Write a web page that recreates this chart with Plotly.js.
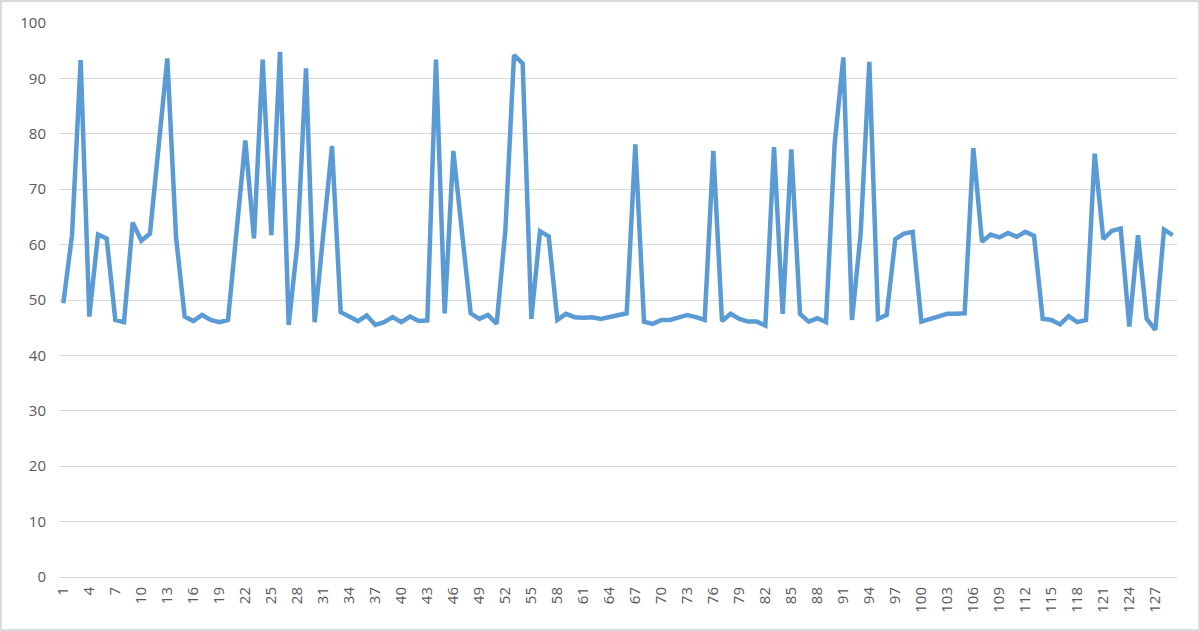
<!DOCTYPE html>
<html>
<head>
<meta charset="utf-8">
<script src="https://cdn.plot.ly/plotly-3.0.1.min.js"></script>
<style>
    html, body { margin: 0; padding: 0; background: #fff; }
    #wrap { width: 1200px; height: 631px; box-sizing: border-box; border: 2px solid #d9d9d9; }
    #grafico { width: 1196px; height: 627px; }
</style>
</head>
<body>
<div id="wrap"><div id="grafico"></div></div>
<script>
// Valores (129 pontos)
const valores = [
    49.4, 61.7, 93.3, 47.0, 61.8, 61.1, 46.4, 46.0, 64.0, 60.7,
    62.0, 77.0, 93.6, 61.4, 47.0, 46.2, 47.3, 46.4, 46.0, 46.4,
    62.5, 78.8, 61.1, 93.4, 61.7, 94.8, 45.5, 60.0, 91.8, 46.0,
    62.0, 77.8, 47.8, 47.0, 46.2, 47.2, 45.5, 46.0, 46.9, 46.0,
    47.0, 46.2, 46.3, 93.4, 47.6, 76.9, 62.0, 47.6, 46.6, 47.3,
    45.7, 62.5, 94.2, 92.7, 46.6, 62.4, 61.5, 46.4, 47.5, 46.9,
    46.8, 46.9, 46.6, 46.9, 47.1, 47.6, 78.1, 46.1, 45.7, 46.4,
    46.4, 46.8, 47.3, 46.9, 46.4, 76.9, 46.2, 47.5, 46.6, 46.1,
    46.1, 45.4, 77.6, 47.5, 77.2, 47.5, 46.1, 46.7, 46.0, 78.2,
    93.8, 46.4, 62.0, 93.0, 46.6, 47.3, 61.0, 62.0, 62.3, 46.1,
    46.6, 47.1, 47.5, 47.5, 47.6, 77.4, 60.5, 61.8, 61.3, 62.1,
    61.4, 62.3, 61.6, 46.6, 46.4, 45.6, 47.1, 46.0, 46.4, 76.4,
    61.0, 62.5, 62.9, 45.2, 61.7, 46.6, 44.6, 62.7, 61.7
];

// Categorias 1..N
const categorias = valores.map((v, i) => i + 1);

const corLinha = '#5b9bd5';
const corTexto = '#595959';
const corGrade = '#d9d9d9';

var serie = {
    x: categorias,
    y: valores,
    mode: 'lines',
    type: 'scatter',
    line: {color: corLinha, width: 4.5},
    hoverinfo: 'x+y'
};

var layout = {
    width: 1196,
    height: 627,
    margin: { l: 57, r: 21, t: 21, b: 52 },
    paper_bgcolor: '#fff',
    plot_bgcolor: '#fff',
    showlegend: false,
    font: { family: 'Open Sans, sans-serif', size: 15, color: corTexto },
    xaxis: {
        range: [0.5, categorias.length + 0.5],
        tickmode: 'linear',
        tick0: 1,
        dtick: 3,
        tickangle: -90,
        showgrid: false,
        zeroline: false,
        showline: true,
        linecolor: corGrade,
        linewidth: 1,
        ticks: '',
        ticklabelstandoff: 3,
        tickfont: { size: 15, color: corTexto }
    },
    yaxis: {
        range: [0, 100],
        tickmode: 'linear',
        tick0: 0,
        dtick: 10,
        showgrid: true,
        gridcolor: corGrade,
        gridwidth: 1,
        zeroline: false,
        showline: false,
        ticks: '',
        ticklabelstandoff: 12,
        tickfont: { size: 15, color: corTexto }
    }
};

Plotly.newPlot('grafico', [serie], layout, {displayModeBar: false, staticPlot: true});
</script>
</body>
</html>
